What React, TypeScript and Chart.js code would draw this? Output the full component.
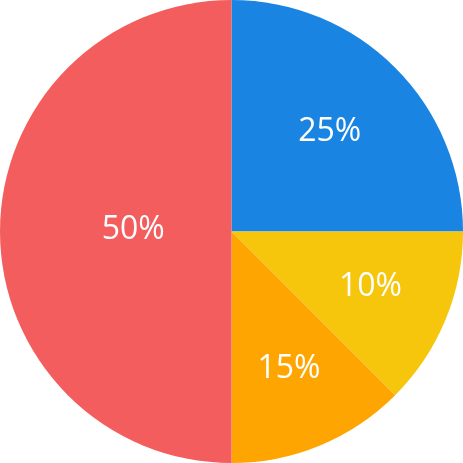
import React, { useEffect, useRef } from "react";
import { Chart, registerables } from "chart.js";

Chart.register(...registerables);

const categories = ["A", "B", "C", "D"];
const sliceValues = [25, 12.5, 12.5, 50];
const sliceLabels = ["25%", "10%", "15%", "50%"];
const sliceColors = ["#1A84E2", "#F5C60C", "#FFA502", "#F35D5D"];

const centroidLabels = {
  id: "centroidLabels",
  afterDatasetsDraw(chart: any) {
    const ctx = chart.ctx;
    const meta = chart.getDatasetMeta(0);
    const size = 32;
    ctx.save();
    ctx.fillStyle = "#ffffff";
    ctx.font = `${size}px 'Open Sans'`;
    ctx.textAlign = "center";
    ctx.textBaseline = "alphabetic";
    meta.data.forEach((arc: any, i: number) => {
      const { x, y, startAngle, endAngle, outerRadius } = arc.getProps(
        ["x", "y", "startAngle", "endAngle", "outerRadius"],
        true
      );
      const theta = endAngle - startAngle;
      const mid = (startAngle + endAngle) / 2;
      const d = (4 * outerRadius * Math.sin(theta / 2)) / (3 * theta);
      ctx.fillText(
        sliceLabels[i],
        x + Math.cos(mid) * d,
        y + Math.sin(mid) * d + size * 0.714 / 2 - 4
      );
    });
    ctx.restore();
  },
};

export default function App() {
  const ref = useRef<HTMLCanvasElement>(null);
  useEffect(() => {
    if (!ref.current) return;
    const chart = new Chart(ref.current, {
      type: "pie",
      data: {
        labels: categories,
        datasets: [
          {
            data: sliceValues,
            backgroundColor: sliceColors,
            borderWidth: 0,
          },
        ],
      },
      options: {
        animation: false,
        responsive: false,
        layout: { padding: 0 },
        plugins: {
          legend: { display: false },
          tooltip: { enabled: false },
        },
      },
      plugins: [centroidLabels],
    });
    return () => chart.destroy();
  }, []);
  return (
    <div style={{ position: "absolute", left: 0, top: 0, width: 463, height: 463, background: "#fff" }}>
      <canvas ref={ref} width={463} height={463} style={{ width: 463, height: 463 }} />
    </div>
  );
}
